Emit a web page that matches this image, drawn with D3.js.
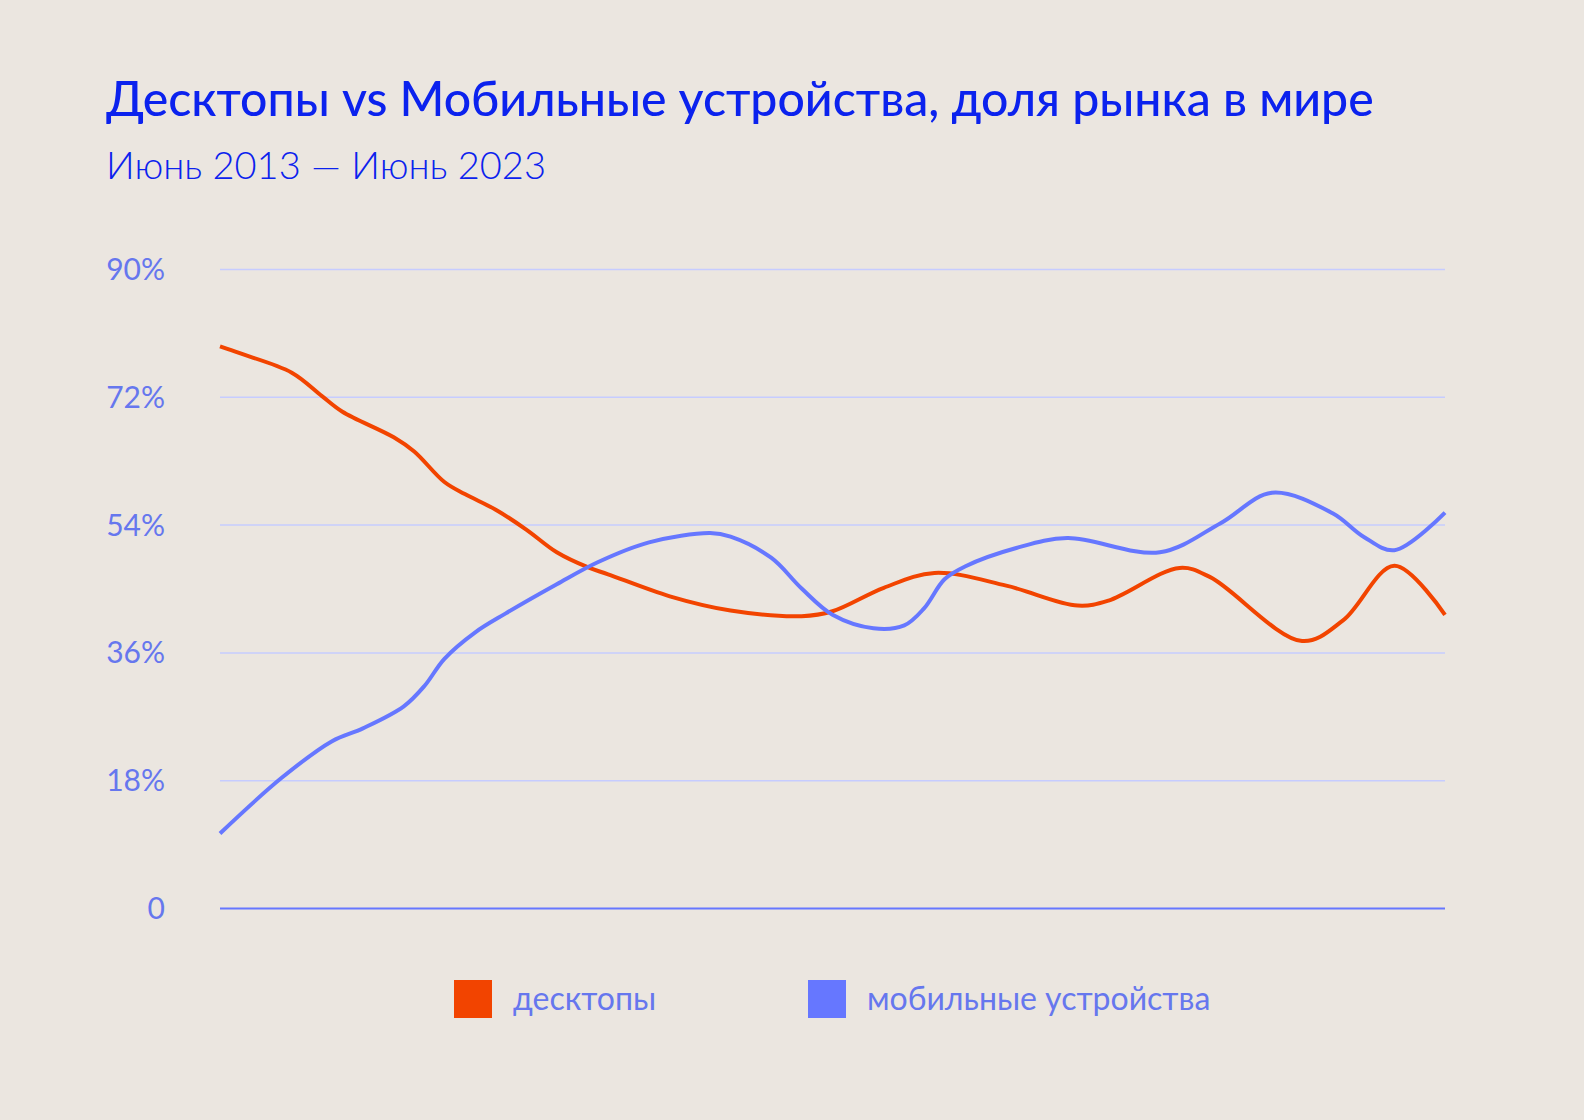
<!DOCTYPE html>
<html lang="ru">
<head>
<meta charset="utf-8">
<title>Десктопы vs Мобильные устройства</title>
<script src="https://d3js.org/d3.v7.min.js"></script>
<style>
  body { margin: 0; background: #ebe6e0; }
  svg { display: block; }
  text { font-family: "Lato", "Noto Sans", sans-serif; }
</style>
</head>
<body>
<svg id="chart" width="1584" height="1120"></svg>
<script>
// ---- data ----
var desktopDates = ["2013-06","2013-08","2014-01","2014-04","2014-06","2014-11","2015-01","2015-04","2015-06","2015-09","2015-12","2016-03","2016-06","2016-08","2017-02","2017-08","2018-03","2018-06","2018-11","2019-04","2019-11","2020-06","2020-09","2021-04","2021-07","2022-04","2022-08","2023-01","2023-06"];
var desktopValues = [79.1,78.1,75.4,72.1,69.9,66.3,64.3,60.0,58.3,56.1,53.3,50.1,48.0,47.0,43.9,41.9,41.1,41.8,45.1,47.2,45.4,42.6,43.3,47.9,46.6,37.6,40.5,48.2,41.3];

var mobileDates = ["2013-06","2013-12","2014-05","2014-08","2014-12","2015-02","2015-04","2015-07","2015-10","2016-03","2016-07","2016-12","2017-06","2017-08","2017-12","2018-03","2018-06","2018-10","2019-01","2019-03","2019-05","2019-07","2019-12","2020-05","2021-02","2021-08","2022-01","2022-07","2022-10","2023-01","2023-06"];
var mobileValues = [10.5,18.3,23.5,25.3,28.4,31.3,35.1,38.8,41.5,45.6,48.7,51.5,52.8,52.3,49.3,45.0,41.3,39.4,39.8,42.2,46.3,48.1,50.7,52.1,50.1,54.2,58.5,55.6,52.3,50.4,55.7];

var yTicks = [0, 18, 36, 54, 72, 90];
var seriesNames = ["десктопы", "мобильные устройства"];
var seriesColors = ["#f24400", "#6677ff"];

var title = "Десктопы vs Мобильные устройства, доля рынка в мире";
var subtitle = "Июнь 2013 — Июнь 2023";

// ---- layout ----
var svg = d3.select("#chart");
var margin = { left: 220, right: 139, top: 269, bottom: 212 };
var W = 1584, H = 1120;
var parse = d3.timeParse("%Y-%m");

var x = d3.scaleTime()
  .domain([parse("2013-06"), parse("2023-06")])
  .range([margin.left, W - margin.right]);
var y = d3.scaleLinear()
  .domain([0, 90])
  .range([H - margin.bottom, margin.top]);

svg.append("rect").attr("width", W).attr("height", H).attr("fill", "#ebe6e0");

// titles
svg.append("text")
  .attr("x", 106).attr("y", 116)
  .attr("fill", "#0b22ee")
  .attr("font-size", 48.2).attr("font-weight", 500)
  .text(title);
svg.append("text")
  .attr("x", 106).attr("y", 179)
  .attr("fill", "#0b22ee")
  .attr("font-size", 38).attr("font-weight", 300)
  .text(subtitle);

// grid + y axis
var yAxis = d3.axisLeft(y)
  .tickValues(yTicks)
  .tickSize(-(W - margin.left - margin.right))
  .tickPadding(55)
  .tickFormat(function (d) { return d === 0 ? "0" : d + "%"; });

var gy = svg.append("g")
  .attr("transform", "translate(" + margin.left + ",0)")
  .call(yAxis);
gy.select(".domain").remove();
gy.selectAll(".tick line")
  .attr("stroke", function (d) { return d === 0 ? "#6677ff" : "#c6ccff"; })
  .attr("stroke-width", function (d) { return d === 0 ? 2 : 1.5; });
gy.selectAll(".tick text")
  .attr("fill", "#6677ee")
  .attr("font-size", 30)
  .attr("font-family", "Lato, 'Noto Sans', sans-serif")
  .attr("dy", "0.35em");

// lines
var line = d3.line()
  .x(function (d) { return x(d.date); })
  .y(function (d) { return y(d.value); })
  .curve(d3.curveCatmullRom.alpha(0.5));

function makeSeries(dates, values) {
  return dates.map(function (d, i) { return { date: parse(d), value: values[i] }; });
}

var series = [makeSeries(desktopDates, desktopValues), makeSeries(mobileDates, mobileValues)];

svg.selectAll(".series")
  .data(series)
  .enter()
  .append("path")
  .attr("class", "series")
  .attr("d", line)
  .attr("fill", "none")
  .attr("stroke", function (d, i) { return seriesColors[i]; })
  .attr("stroke-width", 4)
  .attr("stroke-linejoin", "round");

// legend
var legendX = [454, 808];
var lg = svg.selectAll(".legend")
  .data(seriesNames)
  .enter()
  .append("g")
  .attr("class", "legend")
  .attr("transform", function (d, i) { return "translate(" + legendX[i] + ",980)"; });
lg.append("rect")
  .attr("width", 38).attr("height", 38)
  .attr("fill", function (d, i) { return seriesColors[i]; });
lg.append("text")
  .attr("x", 59).attr("y", 30)
  .attr("fill", "#6677ee")
  .attr("font-size", 32)
  .text(function (d) { return d; });
</script>
</body>
</html>
